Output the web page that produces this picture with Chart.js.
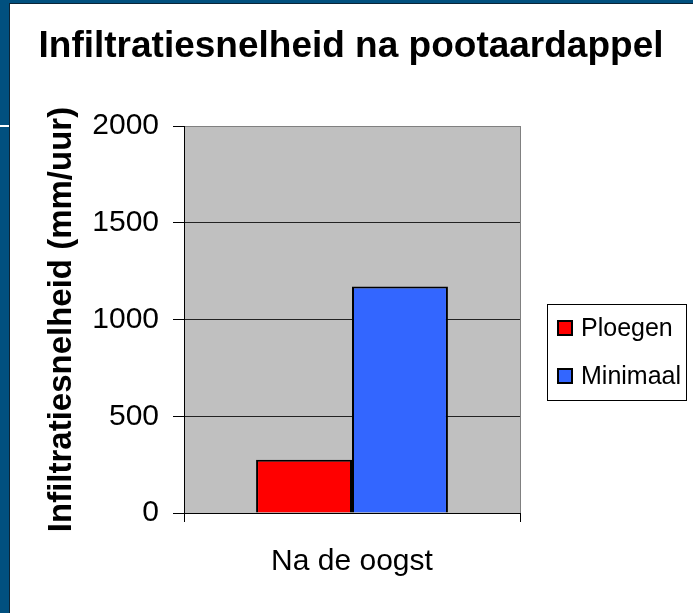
<!DOCTYPE html>
<html>
<head>
<meta charset="utf-8">
<script src="https://cdn.jsdelivr.net/npm/chart.js@4.4.0/dist/chart.umd.min.js"></script>
<style>
  html, body { margin: 0; padding: 0; }
  body { width: 693px; height: 613px; background: #01507f; position: relative; overflow: hidden; }
  #panel { position: absolute; left: 9px; top: 3px; right: 0; bottom: 0; background: #fff; border-left: 1px solid #0b2436; border-top: 1px solid #0b2436; }
  #strip { position: absolute; left: 0; top: 125px; width: 9px; height: 2px; background: #fff; }
  #chart { position: absolute; left: 0; top: 0; }
</style>
</head>
<body>
<div id="panel"></div>
<div id="strip"></div>
<canvas id="chart" width="693" height="613"></canvas>
<script>
// chart data
const categories = ['Na de oogst'];
const seriesNames = ['Ploegen', 'Minimaal'];
const ploegenValues = [275];
const minimaalValues = [1170];
const seriesColors = ['#ff0000', '#3366ff'];
const yTicks = [0, 500, 1000, 1500, 2000];

const chartTitle = 'Infiltratiesnelheid na pootaardappel';
const yTitle = 'Infiltratiesnelheid (mm/uur)';

const FONT = "'Liberation Sans', Arial, sans-serif";

// grey plot background
const plotBg = {
    id: 'plotBg',
    beforeDraw(chart) {
        const a = chart.chartArea;
        const ctx = chart.ctx;
        ctx.save();
        ctx.fillStyle = '#c0c0c0';
        ctx.fillRect(a.left, a.top, a.right - a.left, a.bottom - a.top);
        ctx.restore();
    }
};

// title across the whole white panel (the legend sits right of the plot)
const panelTitle = {
    id: 'panelTitle',
    afterDraw(chart) {
        const ctx = chart.ctx;
        ctx.save();
        ctx.font = 'bold 37px ' + FONT;
        ctx.fillStyle = '#000';
        ctx.textAlign = 'center';
        ctx.textBaseline = 'alphabetic';
        ctx.fillText(chartTitle, 351, 57);
        ctx.restore();
    }
};

// boxed legend on the right
const boxLegend = {
    id: 'boxLegend',
    afterDraw(chart) {
        const ctx = chart.ctx;
        const x = 547, y = 304, w = 139, h = 96;
        ctx.save();
        ctx.strokeStyle = '#000';
        ctx.lineWidth = 1;
        ctx.strokeRect(x + 0.5, y + 0.5, w, h);
        ctx.font = '25px ' + FONT;
        ctx.textBaseline = 'middle';
        chart.data.datasets.forEach((ds, i) => {
            const cy = 328 + i * 48;
            ctx.fillStyle = ds.backgroundColor;
            ctx.fillRect(558, cy - 7, 14, 14);
            ctx.lineWidth = 2;
            ctx.strokeRect(558, cy - 7, 14, 14);
            ctx.fillStyle = '#000';
            ctx.fillText(ds.label, 581, cy + 1);
        });
        ctx.restore();
    }
};

const ctx = document.getElementById('chart').getContext('2d');
new Chart(ctx, {
    type: 'bar',
    data: {
        labels: categories,
        datasets: [{
            label: seriesNames[0],
            data: ploegenValues,
            backgroundColor: seriesColors[0],
            borderColor: '#000',
            borderWidth: 2
        }, {
            label: seriesNames[1],
            data: minimaalValues,
            backgroundColor: seriesColors[1],
            borderColor: '#000',
            borderWidth: 2
        }]
    },
    options: {
        responsive: false,
        animation: false,
        devicePixelRatio: 1,
        layout: {
            padding: { left: 10, right: 173, top: 126, bottom: 0 }
        },
        datasets: {
            bar: { categoryPercentage: 0.571, barPercentage: 1 }
        },
        plugins: {
            legend: { display: false },
            tooltip: { enabled: false },
            title: { display: false }
        },
        scales: {
            x: {
                afterFit(s) { s.height = 100; },
                grid: {
                    offset: true,
                    color: ctx => ctx.index === 0 ? '#000' : '#808080',
                    tickColor: '#000',
                    tickLength: 9
                },
                border: { color: '#000', width: 1 },
                ticks: {
                    color: '#000',
                    padding: 22,
                    font: { size: 30, family: FONT }
                }
            },
            y: {
                min: 0,
                max: 2000,
                afterFit(s) { s.width = 174; },
                afterBuildTicks(s) { s.ticks = yTicks.map(v => ({ value: v })); },
                grid: {
                    color: ctx => ctx.tick && ctx.tick.value === 2000 ? '#808080' : '#222',
                    tickColor: '#000',
                    tickLength: 11
                },
                border: { color: '#000', width: 1 },
                title: {
                    display: true,
                    text: yTitle,
                    color: '#000',
                    font: { size: 33, weight: 'bold', family: FONT },
                    padding: { top: 32, bottom: 0 }
                },
                ticks: {
                    color: '#000',
                    padding: 14,
                    font: { size: 30, family: FONT },
                    callback: v => String(v)
                }
            }
        }
    },
    plugins: [plotBg, panelTitle, boxLegend]
});
</script>
</body>
</html>
